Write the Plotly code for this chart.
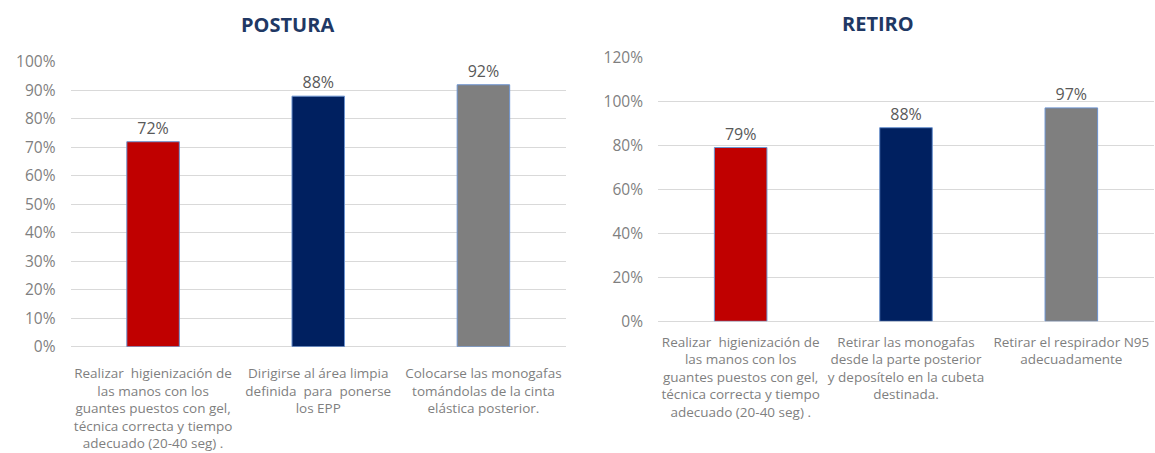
import plotly.graph_objects as go

# ---- data ----
postura_labels = [
    "Realizar  higienización de<br>las manos con los<br>guantes puestos con gel,<br>técnica correcta y tiempo<br>adecuado (20-40 seg) .",
    "Dirigirse al área limpia<br>definida  para  ponerse<br>los EPP",
    "Colocarse las monogafas<br>tomándolas de la cinta<br>elástica posterior.",
]
postura_values = [0.72, 0.88, 0.92]

retiro_labels = [
    "Realizar  higienización de<br>las manos con los<br>guantes puestos con gel,<br>técnica correcta y tiempo<br>adecuado (20-40 seg) .",
    "Retirar las monogafas<br>desde la parte posterior<br>y deposítelo en la cubeta<br>destinada.",
    "Retirar el respirador N95<br>adecuadamente",
]
retiro_values = [0.79, 0.88, 0.97]

bar_colors = ["#C00000", "#002060", "#7F7F7F"]
postura_ticks = [0, 0.1, 0.2, 0.3, 0.4, 0.5, 0.6, 0.7, 0.8, 0.9, 1.0]
retiro_ticks = [0, 0.2, 0.4, 0.6, 0.8, 1.0, 1.2]

W, H = 1155, 453
FONT = "Open Sans"

fig = go.Figure()
fig.add_trace(go.Bar(
    x=postura_labels, y=postura_values, xaxis="x", yaxis="y",
    marker=dict(color=bar_colors, line=dict(color="#6C93CF", width=1)),
    width=0.318, texttemplate="%{y:.0%}", textposition="outside",
    textfont=dict(family=FONT, size=16, color="#595959"), cliponaxis=False,
    showlegend=False, hoverinfo="skip",
))
fig.add_trace(go.Bar(
    x=retiro_labels, y=retiro_values, xaxis="x2", yaxis="y2",
    marker=dict(color=bar_colors, line=dict(color="#6C93CF", width=1)),
    width=0.318, texttemplate="%{y:.0%}", textposition="outside",
    textfont=dict(family=FONT, size=16, color="#595959"), cliponaxis=False,
    showlegend=False, hoverinfo="skip",
))

def px_x(a, b):
    return [a / W, b / W]

def px_y(top, bottom):
    return [(H - bottom) / H, (H - top) / H]

axis_common = dict(showline=False, ticks="", tickfont=dict(family=FONT, size=13.5, color="#7F7F7F"),
                   tickangle=0, fixedrange=True, automargin=False, showgrid=False)
yaxis_common = dict(showline=False, ticks="", tickformat=".0%", gridcolor="#D9D9D9", gridwidth=1,
                    zeroline=True, zerolinecolor="#D9D9D9", zerolinewidth=1, automargin=False,
                    fixedrange=True,
                    tickfont=dict(family=FONT, size=15.5, color="#7F7F7F"), ticklabelstandoff=14)

fig.update_layout(
    width=W, height=H,
    margin=dict(l=0, r=0, t=0, b=0),
    paper_bgcolor="white", plot_bgcolor="white",
    xaxis=dict(domain=px_x(70.5, 566), anchor="y", range=[-0.5, 2.5], ticklabelstandoff=17, **axis_common),
    yaxis=dict(domain=px_y(62, 346.7), anchor="x", range=[0, 1.0], tickvals=postura_ticks, **yaxis_common),
    xaxis2=dict(domain=px_x(658, 1154), anchor="y2", range=[-0.5, 2.5], ticklabelstandoff=11, **axis_common),
    yaxis2=dict(domain=px_y(57.3, 321.3), anchor="x2", range=[0, 1.2], tickvals=retiro_ticks, **yaxis_common),
    annotations=[
        dict(text="<b>POSTURA</b>", x=287 / W, y=1 - 24 / H, xref="paper", yref="paper",
             showarrow=False, xanchor="center", yanchor="middle",
             font=dict(family=FONT, size=20, color="#1F3864")),
        dict(text="<b>RETIRO</b>", x=878 / W, y=1 - 23 / H, xref="paper", yref="paper",
             showarrow=False, xanchor="center", yanchor="middle",
             font=dict(family=FONT, size=20, color="#1F3864")),
    ],
)

fig.write_html("out.html", config={"displayModeBar": False},
               post_script="document.body.style.margin='0';document.body.style.overflow='hidden';")
